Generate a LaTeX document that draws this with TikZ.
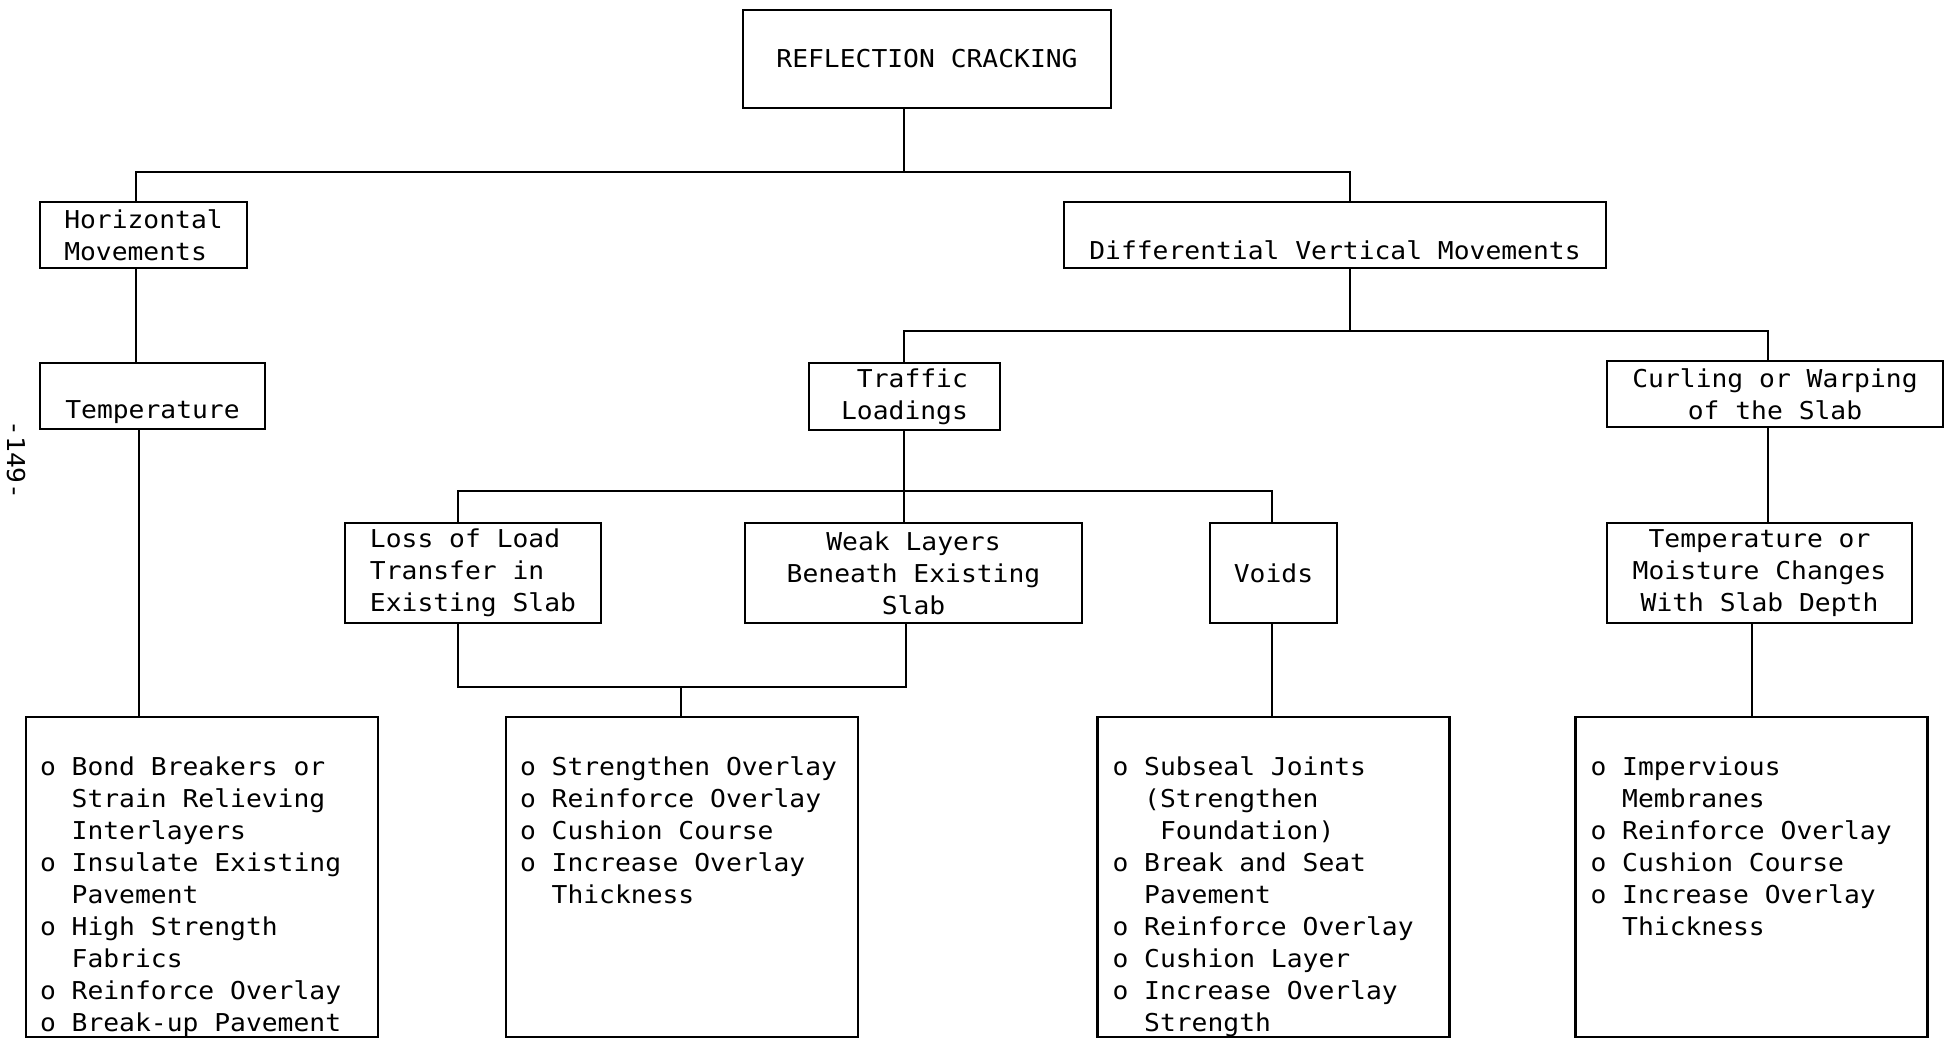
\documentclass[tikz,border=0pt]{standalone}
\usepackage{fontspec}
\newfontfamily\typefont[FakeStretch=1.07]{DejaVu Sans Mono}
\newcommand{\ind}{\phantom{oo}}

\begin{document}
\begin{tikzpicture}[
  every node/.style={font=\typefont\fontsize{7}{9.1}\selectfont, inner sep=0pt, outer sep=0pt},
  box/.style={draw, line width=0.7pt},
  solbox/.style={box, minimum width=3.52cm, minimum height=3.2cm},
  list/.style={align=left, anchor=north west},
  link/.style={line width=0.7pt}
]
\useasboundingbox (0,0) rectangle (19.48,-10.39);

% Root node
\node[box, minimum width=3.68cm, minimum height=0.98cm] (root) at (9.27,-0.59) {REFLECTION CRACKING};

% Kinds of movement
\node[box, align=left, minimum width=2.07cm, minimum height=0.66cm] (horiz) at (1.435,-2.35) {Horizontal\\Movements};
\node[box, align=center, minimum width=5.42cm, minimum height=0.66cm] (diff) at (13.35,-2.35) {\vphantom{M}\\Differential Vertical Movements};

% Causes
\node[box, align=left, minimum width=2.25cm, minimum height=0.66cm] (temp) at (1.525,-3.96) {\vphantom{M}\\Temperature};
\node[box, align=right, minimum width=1.91cm, minimum height=0.67cm] (traffic) at (9.045,-3.965) {Traffic\\Loadings};
\node[box, align=center, minimum width=3.36cm, minimum height=0.66cm] (curl) at (17.75,-3.94) {Curling or Warping\\of the Slab};

\node[box, align=left, minimum width=2.56cm, minimum height=1cm] (loss) at (4.73,-5.73) {Loss of Load\\Transfer in\\Existing Slab};
\node[box, align=center, minimum width=3.37cm, minimum height=1cm] (weak) at (9.135,-5.73) {Weak Layers\\Beneath Existing\\Slab};
\node[box, minimum width=1.27cm, minimum height=1cm] (voids) at (12.735,-5.73) {Voids};
\node[box, align=center, minimum width=3.05cm, minimum height=1cm] (moist) at (17.595,-5.73) {Temperature or\\Moisture Changes\\With Slab Depth};

% Remedy boxes
\foreach \n/\x in {solA/2.02, solB/6.82, solC/12.735, solD/17.515} {
  \node[solbox] (\n) at (\x,-8.77) {};
}

\node[list] (listA) at ([shift={(0.14,-0.40)}]solA.north west) {o Bond Breakers or\\\ind Strain Relieving\\\ind Interlayers\\o Insulate Existing\\\ind Pavement\\o High Strength\\\ind Fabrics\\o Reinforce Overlay\\o Break-up Pavement};
\node[list] (listB) at ([shift={(0.14,-0.40)}]solB.north west) {o Strengthen Overlay\\o Reinforce Overlay\\o Cushion Course\\o Increase Overlay\\\ind Thickness};
\node[list] (listC) at ([shift={(0.15,-0.40)}]solC.north west) {o Subseal Joints\\\ind (Strengthen\\\ind\phantom{o}Foundation)\\o Break and Seat\\\ind Pavement\\o Reinforce Overlay\\o Cushion Layer\\o Increase Overlay\\\ind Strength};
\node[list] (listD) at ([shift={(0.15,-0.40)}]solD.north west) {o Impervious\\\ind Membranes\\o Reinforce Overlay\\o Cushion Course\\o Increase Overlay\\\ind Thickness};

% Page number
\node[rotate=-90] (page) at (0.16,-4.6) {-149-};

% Connectors
\coordinate (b1) at (9.04,-1.72);
\coordinate (b1w) at (1.36,-1.72);
\coordinate (b1e) at (13.50,-1.72);
\coordinate (b2w) at (9.04,-3.31);
\coordinate (b2e) at (17.68,-3.31);
\coordinate (b3w) at (4.58,-4.91);
\coordinate (b3e) at (12.72,-4.91);
\coordinate (b4w) at (4.58,-6.87);
\coordinate (b4e) at (9.06,-6.87);
\coordinate (b4m) at (6.81,-6.87);
\coordinate (c1) at (1.39,-5);
\coordinate (c2) at (17.52,-6.5);

\draw[link] (b1 |- root.south) -- (b1);
\draw[link] (b1w |- horiz.north) -- (b1w) -- (b1e) -- (b1e |- diff.north);
\draw[link] (b1w |- horiz.south) -- (b1w |- temp.north);
\draw[link] (c1 |- temp.south) -- (c1 |- solA.north);

\draw[link] (b1e |- diff.south) -- (b1e |- b2w);
\draw[link] (b2w |- traffic.north) -- (b2w) -- (b2e) -- (b2e |- curl.north);
\draw[link] (b2e |- curl.south) -- (b2e |- moist.north);
\draw[link] (c2 |- moist.south) -- (c2 |- solD.north);

\draw[link] (b2w |- traffic.south) -- (b2w |- weak.north);
\draw[link] (b3w |- loss.north) -- (b3w) -- (b3e) -- (b3e |- voids.north);
\draw[link] (b3e |- voids.south) -- (b3e |- solC.north);

\draw[link] (b4w |- loss.south) -- (b4w) -- (b4e) -- (b4e |- weak.south);
\draw[link] (b4m) -- (b4m |- solB.north);
\end{tikzpicture}
\end{document}
